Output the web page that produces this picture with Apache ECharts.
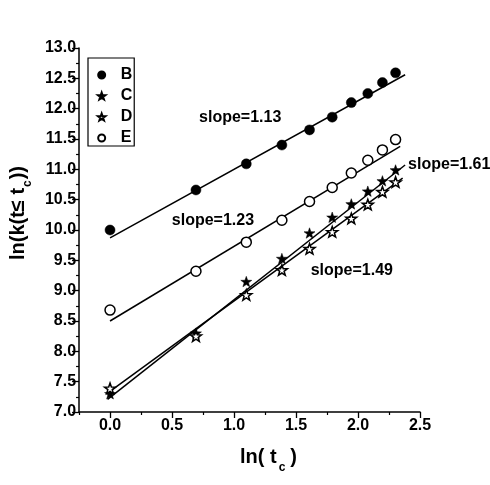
<!DOCTYPE html>
<html>
<head>
<meta charset="utf-8">
<script src="https://cdn.jsdelivr.net/npm/echarts@6/dist/echarts.min.js"></script>
<style>
html, body { margin: 0; padding: 0; background: #fff; }
#chart { width: 490px; height: 485px; }
</style>
</head>
<body>
<div id="chart"></div>
<script>
// ln(t_c) values for t_c = 1..10
const lnT = [0, 0.693, 1.099, 1.386, 1.609, 1.792, 1.946, 2.079, 2.197, 2.303];

const seriesNames = ['B', 'C', 'D', 'E'];
const valuesB = [10.00, 10.66, 11.09, 11.40, 11.65, 11.86, 12.10, 12.25, 12.43, 12.59];
const valuesC = [7.30, 8.30, 9.15, 9.53, 9.95, 10.21, 10.43, 10.64, 10.81, 10.99];
const valuesD = [7.39, 8.25, 8.93, 9.34, 9.69, 9.97, 10.19, 10.42, 10.63, 10.79];
const valuesE = [8.68, 9.32, 9.80, 10.16, 10.47, 10.70, 10.94, 11.15, 11.32, 11.49];

// linear fits: slope, intercept and the x span each fit line covers
const slopes = [1.13, 1.61, 1.49, 1.23];
const intercepts = [9.87, 7.24, 7.34, 8.50];
const fitFrom = [0, -0.02, -0.02, 0];
const fitTo = [2.38, 2.38, 2.36, 2.34];

// axis ticks
const xMajorTicks = [0, 0.5, 1.0, 1.5, 2.0, 2.5];
const xMinorTicks = [-0.25, 0.25, 0.75, 1.25, 1.75, 2.25];

const STAR = 'path://M0,-10L2.35,-3.24L9.51,-3.09L3.8,1.24L5.88,8.09L0,4.2L-5.88,8.09L-3.8,1.24L-9.51,-3.09L-2.35,-3.24Z';

const allValues = [valuesB, valuesC, valuesD, valuesE];
const symbols = ['circle', STAR, STAR, 'circle'];
const hollow = [false, false, true, true];
const symSizes = [10, 11, 11, 10];

const FONT = '"Liberation Sans", Arial, sans-serif';

function pairs(ys) {
  return lnT.map((x, i) => [x, ys[i]]);
}

function fitLine(k) {
  const a = fitFrom[k], b = fitTo[k];
  return [[a, intercepts[k] + slopes[k] * a], [b, intercepts[k] + slopes[k] * b]];
}

const slopeText = k => 'slope=' + slopes[k].toFixed(2);

// where each slope note sits (data coords), keyed by series index
const notePlace = { 0: [1.05, 11.85], 3: [0.83, 10.16], 2: [1.95, 9.33] };

const series = [];
seriesNames.forEach((name, k) => {
  const s = {
    name: 'fit' + name,
    type: 'line',
    data: fitLine(k),
    showSymbol: false,
    symbol: 'none',
    silent: true,
    z: 2,
    lineStyle: { color: '#000', width: 1.5 }
  };
  if (notePlace[k]) {
    s.markPoint = {
      symbol: 'circle',
      symbolSize: 0,
      silent: true,
      label: {
        show: true,
        position: 'inside',
        color: '#000',
        fontFamily: FONT,
        fontSize: 16,
        fontWeight: 'bold',
        formatter: slopeText(k)
      },
      data: [{ coord: notePlace[k] }]
    };
  }
  if (k === 1) {
    s.endLabel = {
      show: true,
      distance: 3,
      color: '#000',
      fontFamily: FONT,
      fontSize: 16,
      fontWeight: 'bold',
      formatter: slopeText(k)
    };
  }
  series.push(s);
});
seriesNames.forEach((name, k) => {
  series.push({
    name: name,
    type: 'scatter',
    data: pairs(allValues[k]),
    symbol: symbols[k],
    symbolSize: symSizes[k],
    symbolKeepAspect: true,
    z: 5,
    itemStyle: hollow[k]
      ? { color: '#fff', borderColor: '#000', borderWidth: 1.5, opacity: 1 }
      : { color: '#000', borderColor: '#000', borderWidth: 0.5, opacity: 1 }
  });
});

const tickLabel = {
  color: '#000',
  fontFamily: FONT,
  fontSize: 16,
  fontWeight: 'bold'
};

const option = {
  animation: false,
  backgroundColor: '#fff',
  grid: { left: 78, right: 70, top: 48, bottom: 73 },
  legend: {
    data: seriesNames,
    orient: 'vertical',
    left: 88,
    top: 58,
    padding: [9, 2, 0, 9],
    itemWidth: 28,
    itemHeight: 7,
    itemGap: 5,
    borderColor: '#000',
    borderWidth: 1.2,
    borderRadius: 0,
    itemStyle: { opacity: 1 },
    textStyle: {
      color: '#000',
      fontFamily: FONT,
      fontSize: 16,
      fontWeight: 'bold',
      lineHeight: 14
    }
  },
  xAxis: [
    {
      type: 'value',
      min: -0.25,
      max: 2.5,
      splitLine: { show: false },
      axisLine: { onZero: false, lineStyle: { color: '#000', width: 1.5 } },
      axisTick: { customValues: xMajorTicks, length: 6, lineStyle: { color: '#000', width: 1.3 } },
      axisLabel: Object.assign({ customValues: xMajorTicks, margin: 6, formatter: v => v.toFixed(1) }, tickLabel),
      name: '{a|ln( t}{s|c}{a|)}',
      nameLocation: 'middle',
      nameGap: 28,
      nameTextStyle: {
        padding: [0, 0, 0, 38],
        rich: {
          a: { fontFamily: FONT, fontSize: 20, fontWeight: 'bold', color: '#000', lineHeight: 22 },
          s: { fontFamily: FONT, fontSize: 12, fontWeight: 'bold', color: '#000', lineHeight: 34, verticalAlign: 'bottom', padding: [0, 5, 0, 2] }
        }
      }
    },
    {
      type: 'value',
      min: -0.25,
      max: 2.5,
      position: 'bottom',
      splitLine: { show: false },
      axisLine: { show: false },
      axisTick: { customValues: xMinorTicks, length: 3, lineStyle: { color: '#000', width: 1.2 } },
      axisLabel: { show: false }
    }
  ],
  yAxis: {
    type: 'value',
    min: 7,
    max: 13,
    interval: 0.5,
    splitLine: { show: false },
    minorSplitLine: { show: false },
    axisLine: { onZero: false, lineStyle: { color: '#000', width: 1.5 } },
    axisTick: { length: 7, lineStyle: { color: '#000', width: 1.3 } },
    minorTick: { show: true, splitNumber: 2, length: 3, lineStyle: { color: '#000', width: 1.2 } },
    axisLabel: Object.assign({ margin: 3, formatter: v => v.toFixed(1) }, tickLabel),
    name: '{a|ln(k(t≤ t}{s|c}{a|))}',
    nameLocation: 'middle',
    nameRotate: 90,
    nameGap: 38,
    nameTextStyle: {
      padding: [0, 0, 0, 34],
      rich: {
        a: { fontFamily: FONT, fontSize: 20, fontWeight: 'bold', color: '#000', lineHeight: 22 },
        s: { fontFamily: FONT, fontSize: 12, fontWeight: 'bold', color: '#000', lineHeight: 32, verticalAlign: 'bottom', padding: [0, 1, 0, 1] }
      }
    }
  },
  series: series
};

const chart = echarts.init(document.getElementById('chart'), null, { renderer: 'canvas' });
chart.setOption(option);
</script>
</body>
</html>
